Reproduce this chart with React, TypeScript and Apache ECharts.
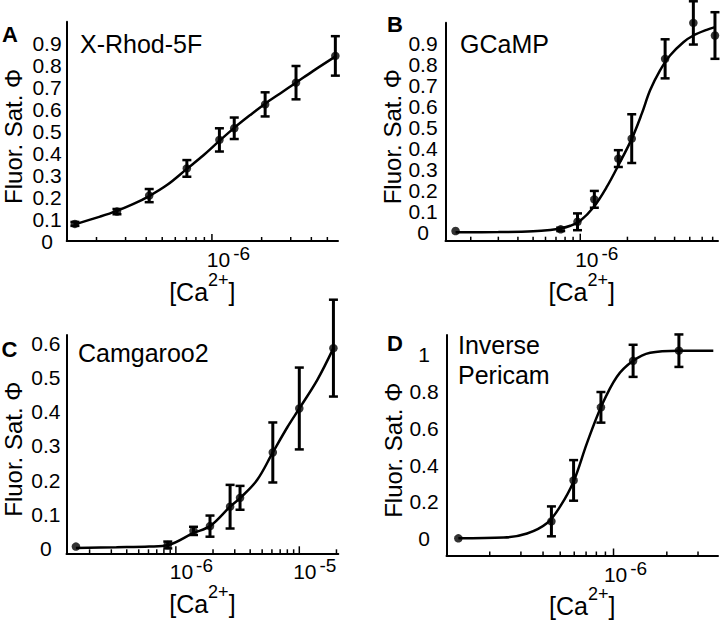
import React, { useEffect, useRef } from 'react';
import * as echarts from 'echarts';

const FONT = '"Liberation Sans", Arial, Helvetica, sans-serif';

// ---------- Panel A : X-Rhod-5F ----------
const caA = [1.48e-7, 2.66e-7, 4.17e-7, 7.05e-7, 1.11e-6, 1.365e-6, 2.1e-6, 3.23e-6, 5.59e-6];
const satA = [0.078, 0.134, 0.207, 0.331, 0.461, 0.514, 0.623, 0.722, 0.844];
const errA = [0.009, 0.012, 0.03, 0.038, 0.053, 0.049, 0.055, 0.076, 0.09];
const fitCaA = [1.48e-7, 2.1e-7, 2.63e-7, 3.35e-7, 4.17e-7, 5.34e-7, 7.05e-7, 8.89e-7, 1.096e-6, 1.37e-6, 1.71e-6, 2.1e-6, 2.59e-6, 3.23e-6, 4.13e-6, 5.64e-6];
const fitSatA = [0.076, 0.111, 0.136, 0.169, 0.205, 0.255, 0.329, 0.391, 0.453, 0.517, 0.575, 0.626, 0.673, 0.722, 0.777, 0.843];
const ticksA = [2e-7, 3e-7, 4e-7, 5e-7, 6e-7, 7e-7, 8e-7, 9e-7, 1e-6, 2e-6, 3e-6, 4e-6, 5e-6];
const yLabelsA = [0, 0.1, 0.2, 0.3, 0.4, 0.5, 0.6, 0.7, 0.8, 0.9];

// ---------- Panel B : GCaMP ----------
const caB = [1.6e-7, 7.5e-7, 9.6e-7, 1.23e-6, 1.75e-6, 2.13e-6, 3.48e-6, 5.27e-6, 7.24e-6];
const satB = [0.008, 0.016, 0.052, 0.159, 0.353, 0.448, 0.828, 0.999, 0.939];
const errB = [0, 0.008, 0.04, 0.04, 0.04, 0.116, 0.093, 0.103, 0.111];
const fitCaB = [1.6e-7, 3e-7, 5e-7, 6.44e-7, 7.46e-7, 8.64e-7, 1e-6, 1.215e-6, 1.479e-6, 1.754e-6, 2.134e-6, 2.47e-6, 2.79e-6, 3.23e-6, 3.74e-6, 4.55e-6, 5.27e-6, 6.41e-6, 7.24e-6];
const fitSatB = [0.002, 0.003, 0.007, 0.013, 0.02, 0.033, 0.057, 0.121, 0.219, 0.322, 0.448, 0.567, 0.678, 0.773, 0.844, 0.907, 0.939, 0.966, 0.979];
const ticksB = [2e-7, 3e-7, 4e-7, 5e-7, 6e-7, 7e-7, 8e-7, 9e-7, 1e-6, 2e-6, 3e-6, 4e-6, 5e-6, 6e-6, 7e-6];
const yLabelsB = [0, 0.1, 0.2, 0.3, 0.4, 0.5, 0.6, 0.7, 0.8, 0.9];

// ---------- Panel C : Camgaroo2 ----------
const caC = [1.55e-7, 8.6e-7, 1.39e-6, 1.89e-6, 2.75e-6, 3.31e-6, 6.1e-6, 1.0e-5, 1.89e-5];
const satC = [0.005, 0.0097, 0.051, 0.065, 0.122, 0.148, 0.281, 0.41, 0.587];
const errC = [0, 0.01, 0.012, 0.031, 0.064, 0.035, 0.088, 0.12, 0.142];
const fitCaC = [1.55e-7, 3.3e-7, 6.1e-7, 8.7e-7, 1.39e-6, 1.89e-6, 2.75e-6, 3.31e-6, 4.55e-6, 6.1e-6, 8e-6, 1e-5, 1.4e-5, 1.89e-5];
const fitSatC = [0.001, 0.003, 0.005, 0.0097, 0.045, 0.065, 0.122, 0.147, 0.2, 0.281, 0.355, 0.41, 0.494, 0.587];
const ticksC = [2e-7, 3e-7, 4e-7, 5e-7, 6e-7, 7e-7, 8e-7, 9e-7, 1e-6, 2e-6, 3e-6, 4e-6, 5e-6, 6e-6, 7e-6, 8e-6, 9e-6, 1e-5, 2e-5];
const yLabelsC = [0, 0.1, 0.2, 0.3, 0.4, 0.5, 0.6];

// ---------- Panel D : Inverse Pericam ----------
const caD = [1.33e-7, 4.46e-7, 5.95e-7, 8.49e-7, 1.29e-6, 2.34e-6];
const satD = [0.003, 0.095, 0.317, 0.713, 0.965, 1.02];
const errD = [0, 0.081, 0.11, 0.083, 0.087, 0.088];
const fitCaD = [1.33e-7, 2.4e-7, 3.25e-7, 4.22e-7, 5.0e-7, 5.95e-7, 7.08e-7, 8.49e-7, 1.045e-6, 1.29e-6, 1.61e-6, 2.34e-6, 3.66e-6];
const fitSatD = [0.003, 0.007, 0.029, 0.086, 0.176, 0.311, 0.519, 0.714, 0.879, 0.965, 1.009, 1.02, 1.02];
const ticksD = [2e-7, 3e-7, 4e-7, 5e-7, 6e-7, 7e-7, 8e-7, 9e-7, 1e-6, 2e-6, 3e-6];
const yLabelsD = [0, 0.2, 0.4, 0.6, 0.8, 1];

const titles = ['X-Rhod-5F', 'GCaMP', 'Camgaroo2', 'Inverse\nPericam'];
const letters = ['A', 'B', 'C', 'D'];

type Panel = {
  ca: number[]; sat: number[]; err: number[]; fitCa: number[]; fitSat: number[];
  ticks: number[]; yLabels: number[];
  xMin: number; xMax: number; yMin: number; yMax: number;
  left: number; top: number; width: number; height: number;
  labelMargin: number; yNameGap: number; xNameGap: number; spacer: number;
};

const panels: Panel[] = [
  { ca: caA, sat: satA, err: errA, fitCa: fitCaA, fitSat: fitSatA, ticks: ticksA, yLabels: yLabelsA,
    xMin: 1.32e-7, xMax: 5.8e-6, yMin: 0, yMax: 1.0,
    left: 66.7, top: 21.7, width: 271.3, height: 219.3, labelMargin: 19.7, yNameGap: 42, xNameGap: 23, spacer: 33 },
  { ca: caB, sat: satB, err: errB, fitCa: fitCaB, fitSat: fitSatB, ticks: ticksB, yLabels: yLabelsB,
    xMin: 1.38e-7, xMax: 7.57e-6, yMin: -0.038, yMax: 1.0,
    left: 445.5, top: 22.7, width: 272.5, height: 218, labelMargin: 22.5, yNameGap: 35.8, xNameGap: 23, spacer: 33 },
  { ca: caC, sat: satC, err: errC, fitCa: fitCaC, fitSat: fitSatC, ticks: ticksC, yLabels: yLabelsC,
    xMin: 1.3e-7, xMax: 2.07e-5, yMin: -0.0147, yMax: 0.6255,
    left: 66.5, top: 335, width: 271.8, height: 218.3, labelMargin: 20.7, yNameGap: 41.8, xNameGap: 25, spacer: 31 },
  { ca: caD, sat: satD, err: errD, fitCa: fitCaD, fitSat: fitSatD, ticks: ticksD, yLabels: yLabelsD,
    xMin: 1.14e-7, xMax: 3.89e-6, yMin: -0.09, yMax: 1.105,
    left: 446.5, top: 335, width: 271.5, height: 220.5, labelMargin: 22.5, yNameGap: 36.8, xNameGap: 25, spacer: 24 },
];

const titlePos = [
  { x: 80, y: 43.5, align: 'left', vAlign: 'middle' },
  { x: 460, y: 44, align: 'left', vAlign: 'middle' },
  { x: 78, y: 352.5, align: 'left', vAlign: 'middle' },
  { x: 458, y: 330, align: 'left', vAlign: 'top' },
];
const letterPos = [
  { x: 10, y: 34.5 },
  { x: 395, y: 24 },
  { x: 9.5, y: 349.5 },
  { x: 395, y: 343 },
];

function isPow10(v: number) {
  const e = Math.log10(v);
  return Math.abs(e - Math.round(e)) < 1e-6;
}

function buildOption() {
  const grid: any[] = [];
  const xAxis: any[] = [];
  const yAxis: any[] = [];
  const series: any[] = [];

  panels.forEach((p, i) => {
    grid.push({ left: p.left, top: p.top, width: p.width, height: p.height, containLabel: false, outerBoundsMode: 'none' });
    xAxis.push({
      type: 'log', logBase: 10, gridIndex: i, min: p.xMin, max: p.xMax,
      axisLine: { show: true, onZero: false, lineStyle: { color: '#000', width: 2 } },
      axisTick: { show: false }, splitLine: { show: false },
      minorTick: { show: false }, minorSplitLine: { show: false },
      axisLabel: {
        margin: 3, color: '#000', fontFamily: FONT, fontSize: 21,
        formatter: (v: number) => {
          if (!isPow10(v)) return '';
          return `{p| }{b|10}{s|${Math.round(Math.log10(v))}}`;
        },
        rich: {
          p: { width: p.spacer, fontSize: 21, fontFamily: FONT },
          b: { fontSize: 21, height: 31, fontFamily: FONT, color: '#000' },
          s: { fontSize: 19, verticalAlign: 'top', fontFamily: FONT, color: '#000', padding: [0, 0, 0, 3] },
        },
      },
      name: '{a|[Ca}{s|2+}{a|]}', nameLocation: 'middle', nameGap: p.xNameGap,
      nameTextStyle: {
        color: '#000', fontFamily: FONT,
        rich: {
          a: { fontSize: 25, height: 42, fontFamily: FONT, color: '#000' },
          s: { fontSize: 18, verticalAlign: 'top', fontFamily: FONT, color: '#000' },
        },
      },
    });
    yAxis.push({
      type: 'value', gridIndex: i, min: p.yMin, max: p.yMax,
      axisLine: { show: true, onZero: false, lineStyle: { color: '#000', width: 2 } },
      axisTick: { show: false }, splitLine: { show: false },
      axisLabel: {
        customValues: p.yLabels, align: 'center', margin: p.labelMargin,
        color: '#000', fontFamily: FONT, fontSize: 21,
        formatter: (v: number) => String(+Number(v).toFixed(2)),
      },
      name: 'Fluor. Sat. Φ', nameLocation: 'middle', nameGap: p.yNameGap,
      nameTextStyle: { color: '#000', fontFamily: FONT, fontSize: 24, lineHeight: 22, padding: [0, 10, 0, 0] },
    });

    // fitted curve
    series.push({
      type: 'line', xAxisIndex: i, yAxisIndex: i, silent: true,
      data: p.fitCa.map((x, k) => [x, p.fitSat[k]]),
      smooth: 0.35, showSymbol: false, symbol: 'none',
      lineStyle: { color: '#000', width: 2.5 },
      z: 2,
    });
    // error bars
    series.push({
      type: 'custom', xAxisIndex: i, yAxisIndex: i, silent: true, clip: false,
      data: p.ca.map((x, k) => [x, p.sat[k], p.err[k]]),
      renderItem: (params: any, api: any) => {
        const x = api.value(0), y = api.value(1), e = api.value(2);
        if (!e) return { type: 'group', children: [] };
        const t = api.coord([x, y + e]);
        const b = api.coord([x, y - e]);
        const st = { stroke: '#000', lineWidth: 3 };
        const cap = { stroke: '#000', lineWidth: 2.5 };
        return {
          type: 'group',
          children: [
            { type: 'line', shape: { x1: t[0], y1: t[1], x2: b[0], y2: b[1] }, style: st },
            { type: 'line', shape: { x1: t[0] - 4.5, y1: t[1], x2: t[0] + 4.5, y2: t[1] }, style: cap },
            { type: 'line', shape: { x1: b[0] - 4.5, y1: b[1], x2: b[0] + 4.5, y2: b[1] }, style: cap },
          ],
        };
      },
      z: 3,
    });
    // data points
    series.push({
      type: 'scatter', xAxisIndex: i, yAxisIndex: i, silent: true,
      data: p.ca.map((x, k) => [x, p.sat[k]]),
      symbol: 'circle', symbolSize: 8.5,
      itemStyle: { color: '#000' },
      z: 4,
    });
    // log ticks on the x axis (inside)
    const yBase = p.yMin;
    series.push({
      type: 'custom', xAxisIndex: i, yAxisIndex: i, silent: true, clip: false,
      data: p.ticks.map((v) => [v, yBase]),
      renderItem: (params: any, api: any) => {
        const v = api.value(0);
        const pt = api.coord([v, yBase]);
        const len = isPow10(v) ? 7 : 4;
        return {
          type: 'line',
          shape: { x1: pt[0], y1: pt[1], x2: pt[0], y2: pt[1] - len },
          style: { stroke: '#000', lineWidth: 1.5 },
        };
      },
      z: 5,
    });
  });

  const graphic: any[] = [];
  titles.forEach((t, i) => {
    const tp = titlePos[i];
    graphic.push({
      type: 'text', x: tp.x, y: tp.y, silent: true,
      style: {
        text: t, fill: '#000', font: `25px ${FONT}`, lineHeight: 30,
        textAlign: tp.align, textVerticalAlign: tp.vAlign, align: tp.align, verticalAlign: tp.vAlign,
      },
    });
  });
  letters.forEach((l, i) => {
    const lp = letterPos[i];
    graphic.push({
      type: 'text', x: lp.x, y: lp.y, silent: true,
      style: {
        text: l, fill: '#000', font: `bold 22px ${FONT}`,
        textAlign: 'center', textVerticalAlign: 'middle', align: 'center', verticalAlign: 'middle',
      },
    });
  });

  return {
    animation: false,
    backgroundColor: '#fff',
    grid, xAxis, yAxis, series, graphic,
  };
}

export default function App() {
  const ref = useRef<HTMLDivElement>(null);
  useEffect(() => {
    if (!ref.current) return;
    const chart = echarts.init(ref.current, undefined, { renderer: 'svg' });
    chart.setOption(buildOption() as any);
    return () => chart.dispose();
  }, []);
  return (
    <div
      ref={ref}
      style={{ position: 'absolute', left: 0, top: 0, width: 720, height: 621, background: '#fff' }}
    />
  );
}
